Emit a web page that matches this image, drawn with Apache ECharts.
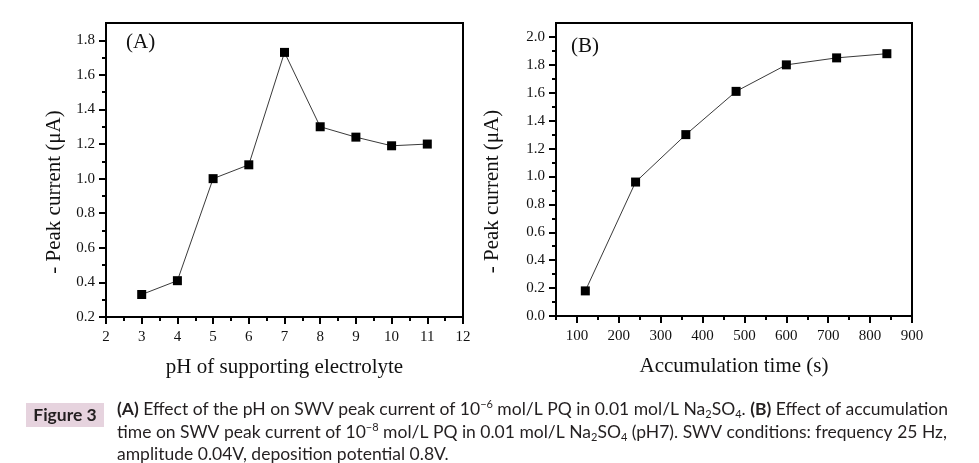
<!DOCTYPE html>
<html>
<head>
<meta charset="utf-8">
<script src="https://cdn.jsdelivr.net/npm/echarts@6/dist/echarts.min.js"></script>
<style>
html,body{margin:0;padding:0;background:#fff;}
#chart{width:979px;height:463px;}
</style>
</head>
<body>
<div id="chart"></div>
<script>
// ---- data ----
const phValues = [3, 4, 5, 6, 7, 8, 9, 10, 11];
const peakCurrentA = [0.33, 0.41, 1.00, 1.08, 1.73, 1.30, 1.24, 1.19, 1.20];
const accTime = [120, 240, 360, 480, 600, 720, 840];
const peakCurrentB = [0.18, 0.96, 1.30, 1.61, 1.80, 1.85, 1.88];

const xTicksA = [2, 3, 4, 5, 6, 7, 8, 9, 10, 11, 12];
const xMinorA = [2.5, 3.5, 4.5, 5.5, 6.5, 7.5, 8.5, 9.5, 10.5, 11.5];
const yTicksA = [0.2, 0.4, 0.6, 0.8, 1.0, 1.2, 1.4, 1.6, 1.8];
const yMinorA = [0.3, 0.5, 0.7, 0.9, 1.1, 1.3, 1.5, 1.7];
const xTicksB = [100, 200, 300, 400, 500, 600, 700, 800, 900];
const xMinorB = [50, 150, 250, 350, 450, 550, 650, 750, 850];
const yTicksB = [0.0, 0.2, 0.4, 0.6, 0.8, 1.0, 1.2, 1.4, 1.6, 1.8, 2.0];
const yMinorB = [0.1, 0.3, 0.5, 0.7, 0.9, 1.1, 1.3, 1.5, 1.7, 1.9];

const xNameA = 'pH of supporting electrolyte';
const xNameB = 'Accumulation time (s)';
const yName = '- Peak current (\u03bcA)';

// ---- styling ----
const SERIF = '"Liberation Serif", "DejaVu Serif", serif';
const CAP = 'Lato, "Noto Sans", sans-serif';
const INK = '#111';

function mainAxis(pos, grid, min, max, interval, ticks, name, gap, fmt, margin, namePad) {
  return {
    type: 'value', gridIndex: grid, position: pos, min: min, max: max, interval: interval,
    name: name, nameLocation: 'middle', nameGap: gap,
    nameTextStyle: { fontFamily: SERIF, fontSize: 21, color: INK, padding: namePad },
    axisLine: { show: true, onZero: false, lineStyle: { color: '#000', width: 2 } },
    axisTick: { show: true, inside: false, length: 7, customValues: ticks, lineStyle: { color: '#000', width: 2 } },
    axisLabel: { show: true, customValues: ticks, margin: margin, fontFamily: SERIF, fontSize: 15, color: INK, formatter: fmt },
    splitLine: { show: false }
  };
}
function minorAxis(pos, grid, min, max, interval, ticks) {
  return {
    type: 'value', gridIndex: grid, position: pos, offset: 0, min: min, max: max, interval: interval,
    axisLine: { show: false, onZero: false },
    axisTick: { show: true, inside: false, length: 4, customValues: ticks, lineStyle: { color: '#000', width: 2 } },
    axisLabel: { show: false },
    splitLine: { show: false }
  };
}
const fmtInt = v => String(Math.round(v));
const fmt1 = v => v.toFixed(1);

const CAPSIZE = 17.5;
const capBase = { fontFamily: CAP, fontSize: CAPSIZE, fontWeight: 'normal', fill: '#231f20', lineHeight: 21 };
const capRich = {
  n: Object.assign({}, capBase),
  b: Object.assign({}, capBase, { fontWeight: 'bold' }),
  sup: { fontFamily: CAP, fontSize: 11, fill: '#231f20', lineHeight: 11, verticalAlign: 'top' },
  sub: { fontFamily: CAP, fontSize: 11, fill: '#231f20', lineHeight: 11, verticalAlign: 'bottom' }
};
function capLine(y, text) {
  return { type: 'text', left: 117, top: y, z: 10,
    style: { text: text, rich: capRich, fontFamily: CAP, fontSize: CAPSIZE, fill: '#231f20' } };
}

const option = {
  animation: false,
  backgroundColor: '#fff',
  grid: [
    { left: 106, top: 23, width: 357, height: 294, show: true, borderColor: '#000', borderWidth: 2, backgroundColor: 'transparent' },
    { left: 556, top: 23, width: 356, height: 293, show: true, borderColor: '#000', borderWidth: 2, backgroundColor: 'transparent' }
  ],
  xAxis: [
    mainAxis('bottom', 0, 2, 12, 1, xTicksA, xNameA, 40, fmtInt, 13, 0),
    mainAxis('bottom', 1, 50, 900, 50, xTicksB, xNameB, 40, fmtInt, 13, 0),
    minorAxis('bottom', 0, 2, 12, 1, xMinorA),
    minorAxis('bottom', 1, 50, 900, 50, xMinorB)
  ],
  yAxis: [
    mainAxis('left', 0, 0.2, 1.9, 0.1, yTicksA, yName, 41, fmt1, 11, [0, 44, 0, 0]),
    mainAxis('left', 1, 0, 2.1, 0.1, yTicksB, yName, 53, fmt1, 11, [0, 44, 0, 0]),
    minorAxis('left', 0, 0.2, 1.9, 0.1, yMinorA),
    minorAxis('left', 1, 0, 2.1, 0.1, yMinorB)
  ],
  series: [
    { type: 'line', xAxisIndex: 0, yAxisIndex: 0,
      data: phValues.map((x, i) => [x, peakCurrentA[i]]),
      symbol: 'rect', symbolSize: 9, showAllSymbol: true,
      lineStyle: { color: '#3a3a3a', width: 1 }, itemStyle: { color: '#000' } },
    { type: 'line', xAxisIndex: 1, yAxisIndex: 1,
      data: accTime.map((x, i) => [x, peakCurrentB[i]]),
      symbol: 'rect', symbolSize: 9, showAllSymbol: true,
      lineStyle: { color: '#3a3a3a', width: 1 }, itemStyle: { color: '#000' } }
  ],
  graphic: [
    { type: 'text', left: 126, top: 32, style: { text: '(A)', fontFamily: SERIF, fontSize: 21, fill: INK } },
    { type: 'text', left: 571, top: 36, style: { text: '(B)', fontFamily: SERIF, fontSize: 21, fill: INK } },
    { type: 'rect', shape: { x: 26, y: 403, width: 78, height: 24 }, style: { fill: '#e6d3de' } },
    { type: 'text', x: 65, y: 415, style: { text: 'Figure 3', fontFamily: CAP, fontSize: 17.5, fontWeight: 'bold', fill: '#231f20', align: 'center', verticalAlign: 'middle' } },
    capLine(399, '{b|(A)}{n| Effect of the pH on SWV peak current of 10}{sup|\u22126}{n| mol/L PQ in 0.01 mol/L Na}{sub|2}{n|SO}{sub|4}{n|. }{b|(B)}{n| Effect of accumulation}'),
    capLine(422, '{n|time on SWV peak current of 10}{sup|\u22128}{n| mol/L PQ in 0.01 mol/L Na}{sub|2}{n|SO}{sub|4}{n| (pH7). SWV conditions: frequency 25 Hz,}'),
    capLine(445, '{n|amplitude 0.04V, deposition potential 0.8V.}')
  ]
};

const chart = echarts.init(document.getElementById('chart'), null, { renderer: 'canvas' });
chart.setOption(option);
</script>
</body>
</html>
